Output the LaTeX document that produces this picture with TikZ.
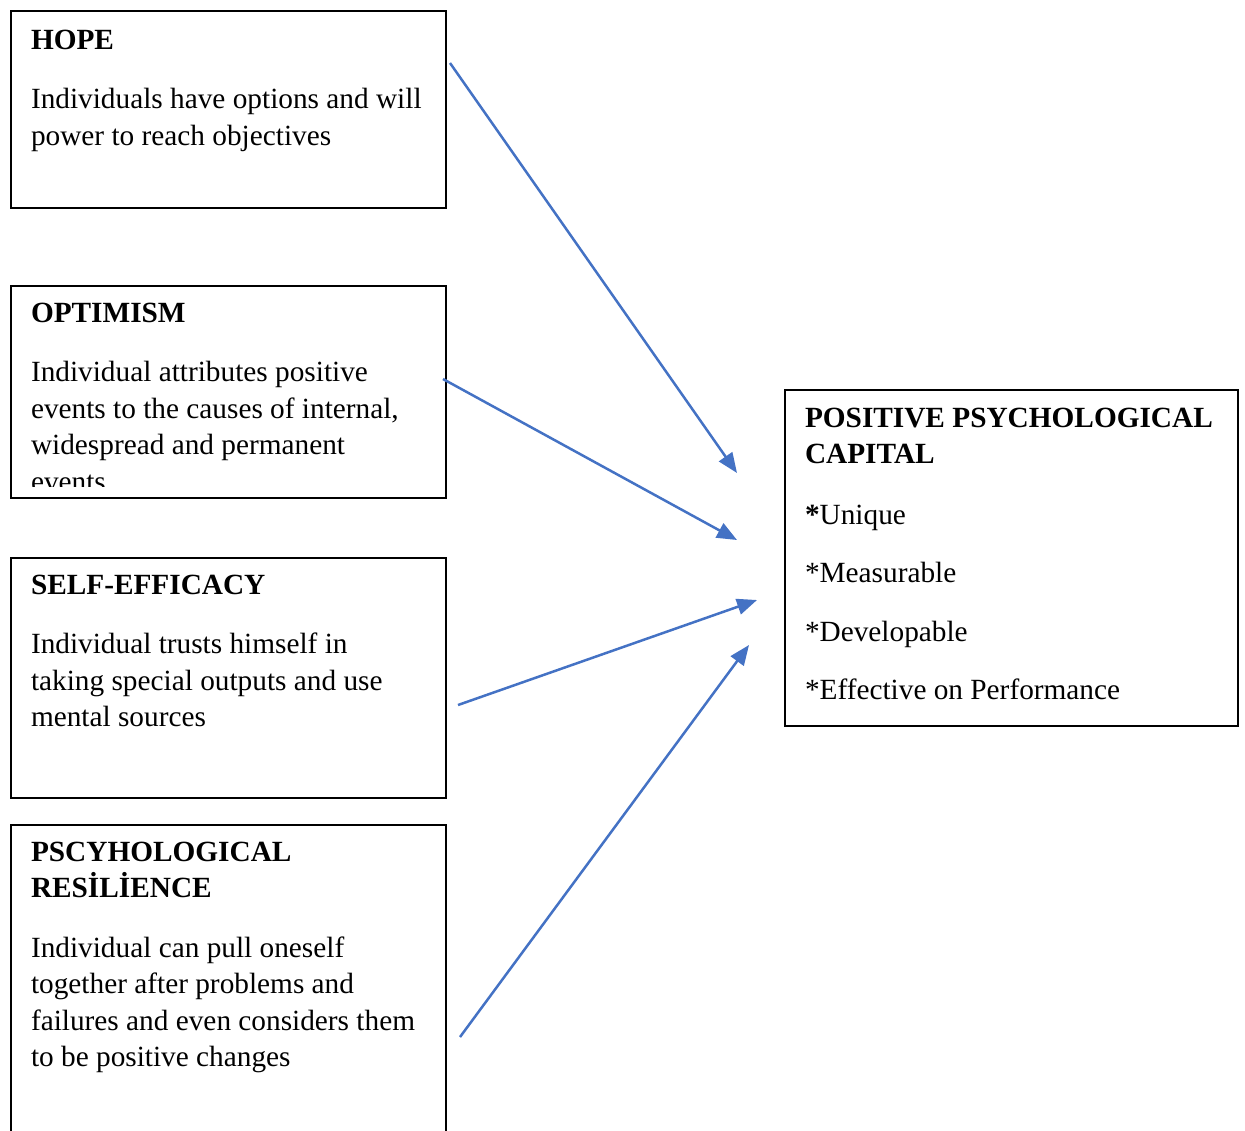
\documentclass[tikz,border=0pt]{standalone}
\usepackage{fontspec}
\setmainfont{Liberation Serif}
\usetikzlibrary{arrows.meta}
\definecolor{linkblue}{HTML}{4472C4}
\newcommand\pcpara[1]{\parbox[t]{300pt}{\raggedright\fontsize{14.65pt}{18.25pt}\selectfont #1}}
\tikzset{
  frame/.style={draw=black, line width=1pt, fill=none, inner sep=0pt, anchor=north west},
  txt/.style={anchor=base west, inner sep=0pt, outer sep=0pt},
  link/.style={draw=linkblue, line width=1.25pt, -{Triangle[length=10pt,width=8pt]}},
}
\begin{document}
\begin{tikzpicture}[x=0.5pt, y=-0.5pt]
  \useasboundingbox (0,0) rectangle (1245,1130);
  \clip (0,0) rectangle (1245,1130);

  % boxes
  \node[frame, minimum width=217.5pt, minimum height=98.5pt]  (hope) at (10,10) {};
  \node[frame, minimum width=217.5pt, minimum height=106pt]   (opt)  at (10,285) {};
  \node[frame, minimum width=217.5pt, minimum height=120pt]   (self) at (10,557) {};
  \node[frame, minimum width=217.5pt, minimum height=170pt]   (res)  at (10,824) {};
  \node[frame, minimum width=226.5pt, minimum height=168pt]   (cap)  at (784,389) {};

  % texts
  \node[txt] (hopetxt) at (31,49) {\pcpara{\textbf{HOPE}\\[11.5pt]
    Individuals have options and will\\
    power to reach objectives}};

  \begin{scope}
    \clip (12,287) rectangle (443,486);
    \node[txt] (opttxt) at (31,322) {\pcpara{\textbf{OPTIMISM}\\[11.5pt]
      Individual attributes positive\\
      events to the causes of internal,\\
      widespread and permanent\\
      events}};
  \end{scope}

  \node[txt] (selftxt) at (31,594) {\pcpara{\textbf{SELF-EFFICACY}\\[11.5pt]
    Individual trusts himself in\\
    taking special outputs and use\\
    mental sources}};

  \node[txt] (restxt) at (31,861) {\pcpara{\textbf{PSCYHOLOGICAL}\\
    \textbf{RES\.{I}L\.{I}ENCE}\\[11.5pt]
    Individual can pull oneself\\
    together after problems and\\
    failures and even considers them\\
    to be positive changes}};

  \node[txt] (captxt) at (805,427) {\pcpara{\textbf{POSITIVE PSYCHOLOGICAL}\\
    \textbf{CAPITAL}\\[12pt]
    \textbf{*}Unique\\[11pt]
    *Measurable\\[11pt]
    *Developable\\[11pt]
    *Effective on Performance}};

  % connector ends
  \coordinate (h0) at (450,63);   \coordinate (h1) at (737,473);
  \coordinate (o0) at (443,379);  \coordinate (o1) at (737,540);
  \coordinate (s0) at (458,705);  \coordinate (s1) at (757,600);
  \coordinate (r0) at (460,1037); \coordinate (r1) at (749,645);

  \draw[link] (h0) -- (h1);
  \draw[link] (o0) -- (o1);
  \draw[link] (s0) -- (s1);
  \draw[link] (r0) -- (r1);
\end{tikzpicture}
\end{document}
